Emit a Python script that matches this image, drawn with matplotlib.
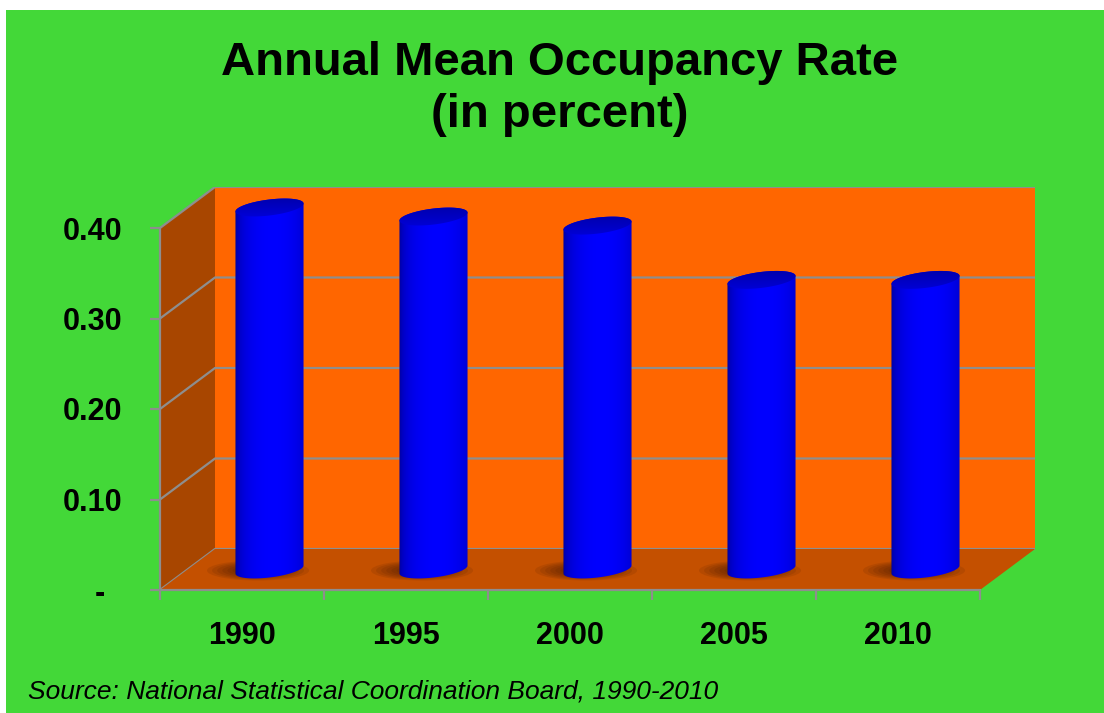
import numpy as np
import matplotlib
matplotlib.use("Agg")
import matplotlib.pyplot as plt
from matplotlib.patches import Polygon, Rectangle, Ellipse, PathPatch
from matplotlib.path import Path
from matplotlib.lines import Line2D

plt.rcParams['font.family'] = ['Liberation Sans', 'DejaVu Sans']

# ---------------- data ----------------
years = ["1990", "1995", "2000", "2005", "2010"]
occupancy = [0.40, 0.39, 0.38, 0.32, 0.32]
y_ticks = [0.0, 0.1, 0.2, 0.3, 0.4]
y_tick_labels = ["-  ", "0.10", "0.20", "0.30", "0.40"]
title = "Annual Mean Occupancy Rate\n(in percent)"
source = "Source: National Statistical Coordination Board, 1990-2010"

# ---------------- style ----------------
W, H, DPI = 1104, 713, 100
GREEN = '#43D838'
WALL = '#FF6600'
SIDE = '#A84600'
FLOOR = '#C45000'
GRID = '#8E8E8E'
YMAX = 0.4
N = len(years)

fig = plt.figure(figsize=(W / DPI, H / DPI), dpi=DPI)
fig.patch.set_facecolor('white')
fig.patches.append(Rectangle((6 / W, 0), 1 - 6 / W, (H - 10) / H,
                             transform=fig.transFigure, facecolor=GREEN,
                             edgecolor='none', zorder=-10))

# axes frame: front plane left=160px, bottom=590px; back wall right=1035, top=187
left_px, right_px, bottom_px, top_px = 160, 1035, 590, 187
depth_dx_px, depth_dy_px = 55, 41
ax = fig.add_axes([left_px / W, (H - bottom_px) / H,
                   (right_px - left_px) / W, (bottom_px - top_px) / H])
ax.patch.set_visible(False)
ax.set_zorder(5)

# depth offsets in data units
xspan_px = right_px - left_px
yspan_px = bottom_px - top_px
DX = depth_dx_px * N / (xspan_px - depth_dx_px)
DY = depth_dy_px * YMAX / (yspan_px - depth_dy_px)
ax.set_xlim(0, N + DX)
ax.set_ylim(0, YMAX + DY)
px_x = (N + DX) / xspan_px      # data units per pixel, x
px_y = (YMAX + DY) / yspan_px   # data units per pixel, y

# back wall, side wall, floor
ax.add_patch(Polygon([(DX, DY), (N + DX, DY), (N + DX, YMAX + DY), (DX, YMAX + DY)],
                     closed=True, facecolor=WALL, edgecolor='none', zorder=1))
ax.add_patch(Polygon([(0, 0), (0, YMAX), (DX, YMAX + DY), (DX, DY)],
                     closed=True, facecolor=SIDE, edgecolor='none', zorder=1))
ax.add_patch(Polygon([(0, 0), (DX, DY), (N + DX, DY), (N, 0)],
                     closed=True, facecolor=FLOOR, edgecolor='none', zorder=2))
# grid lines on walls
for yv in y_ticks:
    ax.add_line(Line2D([0, DX, N + DX], [yv, yv + DY, yv + DY],
                       color=GRID, lw=1.6, zorder=1.5))

# spines & ticks
for s in ['top', 'right']:
    ax.spines[s].set_visible(False)
for s in ['left', 'bottom']:
    ax.spines[s].set_color(GRID)
    ax.spines[s].set_linewidth(1.6)
ax.spines['left'].set_bounds(0, YMAX)
ax.spines['bottom'].set_bounds(0, N)
ax.spines['left'].set_zorder(3)
ax.spines['bottom'].set_zorder(3)

ax.set_yticks(y_ticks)
ax.set_yticklabels(y_tick_labels, fontsize=22, fontweight='bold')
ax.tick_params(axis='y', length=7.2, width=1.6, color=GRID, pad=20)
ax.set_xticks(range(N + 1))
ax.set_xticklabels([''] * (N + 1))
ax.set_xticks([i + 0.5 for i in range(N)], minor=True)
ax.set_xticklabels(years, minor=True, fontsize=22, fontweight='bold')
ax.tick_params(axis='x', which='major', length=7.2, width=1.6, color=GRID)
ax.tick_params(axis='x', which='minor', length=0, pad=22)

# cylinders
cyl_w = 0.415
a = cyl_w / 2
b = 8 * px_y
k = 4 * px_y
base = DY / 2

u = np.linspace(0, 1, 200)
inten = 0.52 + 0.48 * np.clip(1 - ((u - 0.55) / 0.55) ** 2, 0, 1) ** 0.4
grad = np.zeros((1, len(u), 3))
grad[0, :, 2] = inten

topgrad = np.zeros((30, 1, 3))
topgrad[:, 0, 2] = np.linspace(0.86, 0.66, 30)

for i, v in enumerate(occupancy):
    cx = i + 0.5 + DX / 2
    top = v + DY / 2
    # shadow on floor
    for j in range(7):
        sc = 1 - j * 0.1
        ax.add_patch(Ellipse((cx - 0.07, base - 1 * px_y), 2 * a * 1.5 * sc,
                             20 * px_y * sc, facecolor='#3A1400', alpha=0.11,
                             edgecolor='none', zorder=3))
    t1 = np.linspace(np.pi, 2 * np.pi, 60)
    t2 = np.linspace(0, np.pi, 60)
    xs = np.concatenate([cx + a * np.cos(t1), cx + a * np.cos(t2)])
    ys = np.concatenate([base + b * np.sin(t1) + k * np.cos(t1),
                         top + b * np.sin(t2) + k * np.cos(t2)])
    verts = np.column_stack([xs, ys])
    body = PathPatch(Path(np.vstack([verts, verts[:1]]), closed=True),
                     facecolor='none', edgecolor='none', zorder=4)
    ax.add_patch(body)
    im = ax.imshow(grad, extent=[cx - a, cx + a, base - 2 * b, top + 2 * b],
                   aspect='auto', zorder=4, interpolation='bilinear')
    im.set_clip_path(body)
    tt = np.linspace(0, 2 * np.pi, 100)
    cap = Polygon(np.column_stack([cx + a * np.cos(tt),
                                   top + b * np.sin(tt) + k * np.cos(tt)]),
                  closed=True, facecolor='none', edgecolor='none', zorder=5)
    ax.add_patch(cap)
    im2 = ax.imshow(topgrad, extent=[cx - a, cx + a, top - b - k, top + b + k],
                    aspect='auto', zorder=5, interpolation='bilinear',
                    origin='lower')
    im2.set_clip_path(cap)

ax.set_xlim(0, N + DX)
ax.set_ylim(0, YMAX + DY)

fig.text(560 / W, 1 - 89 / H, title, ha='center', va='center', fontsize=34,
         fontweight='bold', linespacing=1.22)
fig.text(28 / W, 1 - 692 / H, source, ha='left', va='center', fontsize=19,
         style='italic')

fig.savefig('out.png', dpi=DPI, facecolor=fig.get_facecolor())
